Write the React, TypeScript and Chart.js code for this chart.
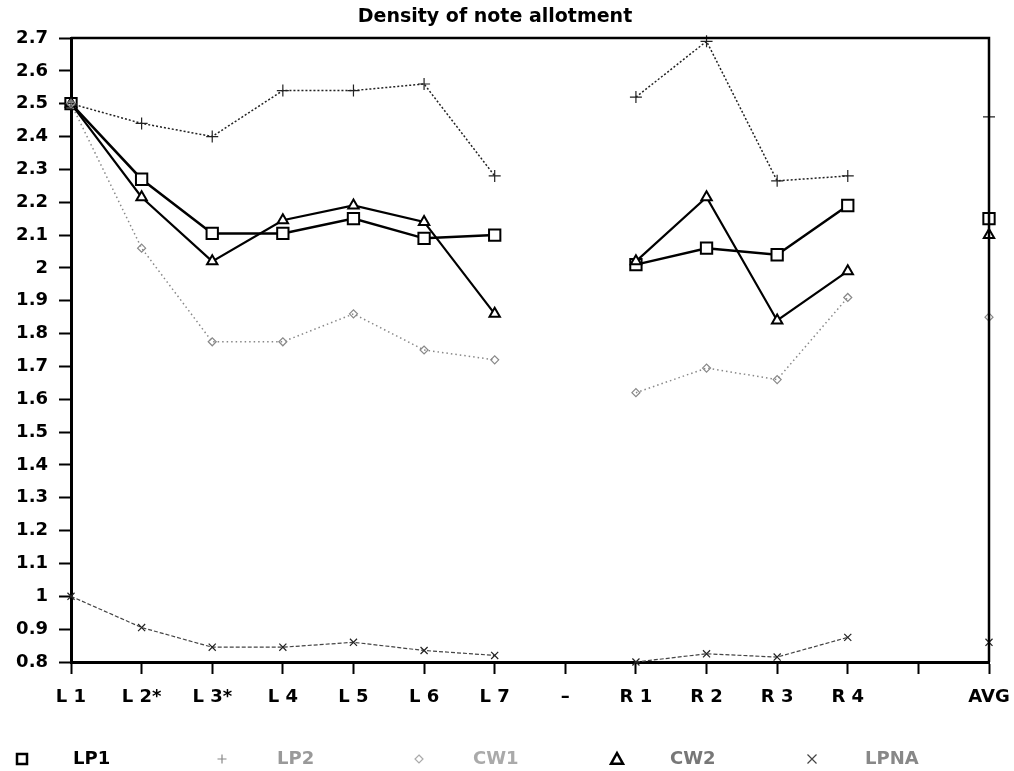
import React, { useEffect, useRef } from "react";
import { Chart, registerables } from "chart.js";

Chart.register(...registerables);

const titleText = "Density of note allotment";
const categories = ["L 1", "L 2*", "L 3*", "L 4", "L 5", "L 6", "L 7", "–", "R 1", "R 2", "R 3", "R 4", "", "AVG"];
const lp1 = [2.5, 2.27, 2.105, 2.105, 2.15, 2.09, 2.1, null, 2.01, 2.06, 2.04, 2.19, null, 2.15];
const lp2 = [2.5, 2.44, 2.4, 2.54, 2.54, 2.56, 2.28, null, 2.52, 2.69, 2.265, 2.28, null, 2.46];
const cw1 = [2.5, 2.06, 1.775, 1.775, 1.86, 1.75, 1.72, null, 1.62, 1.695, 1.66, 1.91, null, 1.85];
const cw2 = [2.5, 2.215, 2.02, 2.145, 2.19, 2.14, 1.86, null, 2.02, 2.215, 1.84, 1.99, null, 2.1];
const lpna = [1.0, 0.905, 0.845, 0.845, 0.86, 0.835, 0.82, null, 0.8, 0.825, 0.815, 0.875, null, 0.86];
const yMin = 0.8;
const yMax = 2.7;
const yStep = 0.1;
const legendLabels = ["LP1", "LP2", "CW1", "CW2", "LPNA"];

const FONT = "'DejaVu Sans', sans-serif";

function drawMarker(ctx: CanvasRenderingContext2D, style: string, x: number, y: number, r: number) {
  ctx.beginPath();
  if (style === "rect") {
    ctx.rect(x - r, y - r, 2 * r, 2 * r);
  } else if (style === "cross") {
    ctx.moveTo(x - r, y);
    ctx.lineTo(x + r, y);
    ctx.moveTo(x, y - r);
    ctx.lineTo(x, y + r);
  } else if (style === "rectRot") {
    ctx.moveTo(x, y - r);
    ctx.lineTo(x + r, y);
    ctx.lineTo(x, y + r);
    ctx.lineTo(x - r, y);
    ctx.closePath();
  } else if (style === "triangle") {
    ctx.moveTo(x, y - r);
    ctx.lineTo(x + r, y + r * 0.8);
    ctx.lineTo(x - r, y + r * 0.8);
    ctx.closePath();
  } else if (style === "crossRot") {
    ctx.moveTo(x - r, y - r);
    ctx.lineTo(x + r, y + r);
    ctx.moveTo(x + r, y - r);
    ctx.lineTo(x - r, y + r);
  }
  ctx.stroke();
}

const decorPlugin = {
  id: "decor",
  afterDraw(chart: any) {
    const ctx: CanvasRenderingContext2D = chart.ctx;
    const a = chart.chartArea;
    ctx.save();
    // top and right frame
    ctx.strokeStyle = "#000";
    ctx.lineWidth = 2.5;
    ctx.beginPath();
    ctx.moveTo(a.left, a.top);
    ctx.lineTo(a.right, a.top);
    ctx.lineTo(a.right, a.bottom);
    ctx.stroke();
    // title
    ctx.fillStyle = "#000";
    ctx.font = `bold 19px ${FONT}`;
    ctx.textAlign = "center";
    ctx.textBaseline = "middle";
    ctx.fillText(titleText, 495, 17);
    // legend
    const legendY = 759;
    const items = [
      { style: "rect", mx: 22, tx: 73, color: "#000", text: "#000", r: 5 },
      { style: "cross", mx: 222, tx: 277, color: "#888", text: "#999", r: 4.5 },
      { style: "rectRot", mx: 419, tx: 473, color: "#aaa", text: "#aaa", r: 4 },
      { style: "triangle", mx: 617, tx: 670, color: "#000", text: "#777", r: 6 },
      { style: "crossRot", mx: 812, tx: 865, color: "#444", text: "#888", r: 4.5 },
    ];
    ctx.font = `bold 18px ${FONT}`;
    ctx.textAlign = "left";
    items.forEach((it, i) => {
      ctx.strokeStyle = it.color;
      ctx.lineWidth = i === 0 || i === 3 ? 2.5 : 1.2;
      drawMarker(ctx, it.style, it.mx, legendY, it.r);
      ctx.fillStyle = it.text;
      ctx.fillText(legendLabels[i], it.tx, legendY);
    });
    ctx.restore();
  },
};

export default function App() {
  const ref = useRef<HTMLCanvasElement>(null);
  useEffect(() => {
    document.body.style.margin = "0";
    const canvas = ref.current!;
    const chart = new Chart(canvas, {
      type: "line",
      data: {
        labels: categories,
        datasets: [
          {
            label: "LPNA",
            data: lpna,
            borderColor: "#444",
            borderWidth: 1.2,
            borderDash: [4, 2],
            pointStyle: "crossRot",
            pointRadius: 5,
            pointBorderColor: "#222",
            pointBorderWidth: 1.2,
            spanGaps: false,
            clip: false,
          },
          {
            label: "CW1",
            data: cw1,
            borderColor: "#888",
            borderWidth: 1.5,
            borderDash: [1.5, 3],
            pointStyle: "rectRot",
            pointRadius: 4,
            pointBorderColor: "#888",
            pointBackgroundColor: "rgba(0,0,0,0)",
            pointBorderWidth: 1.2,
            spanGaps: false,
            clip: false,
          },
          {
            label: "LP2",
            data: lp2,
            borderColor: "#222",
            borderWidth: 1.5,
            borderDash: [2, 2],
            pointStyle: "cross",
            pointRadius: 6,
            pointBorderColor: "#222",
            pointBorderWidth: 1.2,
            spanGaps: false,
            clip: false,
          },
          {
            label: "CW2",
            data: cw2,
            borderColor: "#000",
            borderWidth: 2.2,
            pointStyle: "triangle",
            pointRadius: 6,
            pointBorderColor: "#000",
            pointBackgroundColor: "#fff",
            pointBorderWidth: 2,
            spanGaps: false,
            clip: false,
          },
          {
            label: "LP1",
            data: lp1,
            borderColor: "#000",
            borderWidth: 2.5,
            pointStyle: "rect",
            pointRadius: 8,
            pointBorderColor: "#000",
            pointBackgroundColor: "#fff",
            pointBorderWidth: 2,
            spanGaps: false,
            clip: false,
          },
        ],
      },
      options: {
        animation: false,
        responsive: false,
        devicePixelRatio: 1,
        layout: { padding: { left: 0, right: 25, top: 38, bottom: 59 } },
        plugins: {
          legend: { display: false },
          title: { display: false },
          tooltip: { enabled: false },
        },
        scales: {
          x: {
            type: "category",
            offset: false,
            afterFit: (s: any) => {
              s.height = 50;
              s.paddingLeft = 0;
              s.paddingRight = 0;
            },
            border: { display: true, color: "#000", width: 3 },
            grid: {
              display: true,
              drawOnChartArea: false,
              drawTicks: true,
              tickLength: 12,
              tickWidth: 2,
              tickColor: "#000",
              offset: false,
            },
            ticks: {
              color: "#000",
              font: { family: FONT, size: 18, weight: "bold" },
              padding: 13,
              maxRotation: 0,
              autoSkip: false,
            },
          },
          y: {
            min: yMin,
            max: yMax,
            afterFit: (s: any) => {
              s.width = 71;
              s.paddingTop = 0;
              s.paddingBottom = 0;
            },
            border: { display: true, color: "#000", width: 3 },
            grid: {
              display: true,
              drawOnChartArea: false,
              drawTicks: true,
              tickLength: 12,
              tickWidth: 2,
              tickColor: "#000",
            },
            ticks: {
              stepSize: yStep,
              color: "#000",
              font: { family: FONT, size: 18, weight: "bold" },
              padding: 11,
              callback: (v: any) => String(Number(Number(v).toFixed(1))),
            },
          },
        },
      },
      plugins: [decorPlugin],
    } as any);
    return () => chart.destroy();
  }, []);
  return (
    <div style={{ width: 1014, height: 771 }}>
      <canvas ref={ref} width={1014} height={771} style={{ width: 1014, height: 771, display: "block" }} />
    </div>
  );
}
